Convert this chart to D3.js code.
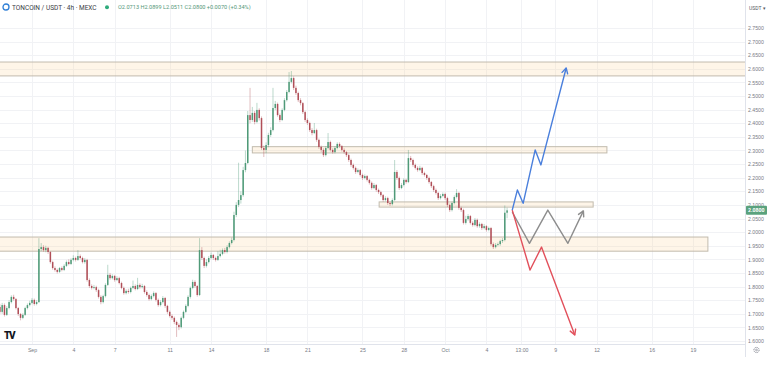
<!DOCTYPE html>
<html>
<head>
<meta charset="utf-8">
<script src="https://cdn.jsdelivr.net/npm/d3@7"></script>
<style>
  body { margin: 0; background: #fff; }
  svg { display: block; font-family: Roboto, "Noto Sans", sans-serif; }
</style>
</head>
<body>
<div id="chart"></div>
<script>
// 4h candles of TONCOIN/USDT
const firstCandle = '2023-08-29T16:00:00Z';
const firstOpen = 1.725;
const closes = [
  1.707,1.732,1.696,1.721,1.743,1.762,1.754,1.721,1.699,1.685,
  1.696,1.721,1.732,1.740,1.751,1.736,1.743,1.938,1.945,1.934,
  1.942,1.927,1.890,1.868,1.861,1.854,1.868,1.861,1.876,1.890,
  1.883,1.898,1.905,1.898,1.912,1.905,1.890,1.898,1.824,1.802,
  1.795,1.798,1.787,1.762,1.743,1.765,1.806,1.843,1.831,1.839,
  1.824,1.831,1.813,1.795,1.776,1.784,1.780,1.795,1.802,1.791,
  1.806,1.798,1.802,1.780,1.769,1.754,1.765,1.776,1.751,1.732,
  1.743,1.758,1.729,1.707,1.692,1.685,1.670,1.659,1.651,1.685,
  1.707,1.729,1.762,1.795,1.817,1.802,1.769,1.934,1.905,1.876,
  1.890,1.905,1.916,1.905,1.898,1.912,1.920,1.934,1.927,1.945,
  1.960,1.971,2.063,2.100,2.118,2.136,2.228,2.254,2.430,2.412,
  2.438,2.405,2.449,2.419,2.309,2.302,2.320,2.357,2.375,2.456,
  2.471,2.430,2.412,2.449,2.485,2.515,2.552,2.566,2.530,2.511,
  2.485,2.474,2.441,2.412,2.401,2.375,2.364,2.375,2.339,2.313,
  2.302,2.283,2.309,2.331,2.302,2.294,2.309,2.324,2.316,2.302,
  2.294,2.283,2.265,2.247,2.236,2.221,2.228,2.210,2.199,2.206,
  2.192,2.181,2.162,2.173,2.155,2.147,2.136,2.118,2.125,2.107,
  2.103,2.118,2.221,2.199,2.162,2.173,2.192,2.184,2.272,2.265,
  2.247,2.236,2.228,2.236,2.217,2.210,2.199,2.184,2.169,2.155,
  2.144,2.125,2.133,2.140,2.125,2.100,2.081,2.107,2.129,2.144,
  2.089,2.081,2.034,2.048,2.059,2.034,2.026,2.045,2.022,2.030,
  2.015,2.022,2.008,2.015,1.956,1.945,1.953,1.956,1.967,1.971,
  2.0713,2.0800
];
const highs = [
  1.735,1.740,1.738,1.728,1.750,1.768,1.770,1.758,1.725,1.703,
  1.702,1.726,1.738,1.748,1.758,1.756,1.750,1.978,1.960,1.952,
  1.950,1.946,1.930,1.895,1.874,1.866,1.872,1.874,1.882,1.896,
  1.900,1.904,1.915,1.910,1.934,1.918,1.910,1.905,1.902,1.830,
  1.808,1.806,1.803,1.792,1.768,1.770,1.812,1.880,1.850,1.845,
  1.843,1.838,1.836,1.818,1.800,1.790,1.792,1.800,1.822,1.808,
  1.832,1.812,1.810,1.806,1.786,1.774,1.771,1.782,1.780,1.756,
  1.750,1.765,1.762,1.733,1.712,1.698,1.690,1.675,1.665,1.690,
  1.712,1.735,1.768,1.800,1.825,1.823,1.806,1.978,1.945,1.910,
  1.900,1.912,1.925,1.920,1.910,1.930,1.935,1.940,1.942,1.952,
  1.966,1.980,2.075,2.110,2.255,2.150,2.240,2.300,2.445,2.530,
  2.460,2.445,2.475,2.455,2.425,2.318,2.330,2.365,2.385,2.530,
  2.482,2.476,2.436,2.455,2.492,2.522,2.588,2.592,2.572,2.538,
  2.516,2.492,2.478,2.446,2.418,2.406,2.382,2.401,2.380,2.344,
  2.318,2.308,2.316,2.364,2.336,2.308,2.316,2.330,2.330,2.320,
  2.308,2.298,2.288,2.270,2.252,2.241,2.234,2.232,2.215,2.212,
  2.210,2.196,2.186,2.180,2.177,2.160,2.152,2.140,2.132,2.130,
  2.112,2.124,2.265,2.228,2.204,2.180,2.198,2.196,2.302,2.280,
  2.270,2.252,2.242,2.244,2.240,2.222,2.214,2.204,2.188,2.174,
  2.160,2.148,2.140,2.146,2.145,2.130,2.105,2.112,2.135,2.158,
  2.148,2.094,2.086,2.060,2.066,2.063,2.040,2.052,2.050,2.036,
  2.034,2.030,2.026,2.020,2.019,1.962,1.960,1.962,1.972,1.978,
  2.098,2.0899
];
const lows = [
  1.700,1.700,1.690,1.692,1.716,1.738,1.748,1.716,1.692,1.676,
  1.680,1.692,1.716,1.727,1.735,1.730,1.731,1.740,1.930,1.928,
  1.926,1.920,1.884,1.862,1.855,1.848,1.850,1.856,1.857,1.872,
  1.878,1.879,1.893,1.892,1.894,1.900,1.885,1.884,1.818,1.795,
  1.789,1.790,1.780,1.756,1.735,1.738,1.760,1.802,1.825,1.826,
  1.818,1.820,1.808,1.790,1.770,1.771,1.774,1.775,1.790,1.786,
  1.787,1.792,1.793,1.774,1.763,1.748,1.749,1.760,1.745,1.726,
  1.727,1.738,1.722,1.700,1.686,1.678,1.662,1.615,1.640,1.646,
  1.680,1.702,1.724,1.756,1.790,1.796,1.763,1.765,1.898,1.868,
  1.870,1.885,1.900,1.898,1.892,1.894,1.907,1.915,1.921,1.922,
  1.940,1.955,1.966,2.055,2.092,2.105,2.130,2.220,2.250,2.400,
  2.405,2.396,2.400,2.410,2.302,2.276,2.290,2.312,2.350,2.370,
  2.448,2.424,2.404,2.408,2.444,2.480,2.510,2.546,2.522,2.504,
  2.478,2.466,2.434,2.405,2.394,2.368,2.356,2.360,2.332,2.306,
  2.294,2.276,2.278,2.304,2.296,2.288,2.289,2.304,2.310,2.296,
  2.288,2.276,2.258,2.240,2.230,2.214,2.216,2.204,2.192,2.194,
  2.186,2.175,2.156,2.158,2.148,2.140,2.130,2.112,2.113,2.100,
  2.096,2.098,2.114,2.192,2.155,2.158,2.168,2.178,2.180,2.258,
  2.240,2.230,2.222,2.224,2.210,2.204,2.192,2.178,2.162,2.148,
  2.138,2.118,2.120,2.128,2.118,2.092,2.074,2.076,2.102,2.124,
  2.082,2.074,2.028,2.028,2.042,2.028,2.020,2.021,2.016,2.016,
  2.008,2.010,2.002,2.003,1.950,1.938,1.940,1.948,1.950,1.960,
  1.966,2.0511
];

// support / resistance boxes (null = runs to the chart edge)
const zoneFrom   = [null, '2023-09-17T00:00:00Z', '2023-09-26T05:00:00Z', null];
const zoneTo     = [null, '2023-10-12T18:00:00Z', '2023-10-11T18:00:00Z', '2023-10-20T02:00:00Z'];
const zoneHigh   = [2.625, 2.314, 2.111, 1.982];
const zoneLow    = [2.574, 2.291, 2.092, 1.930];

// scenario arrows drawn on the chart: [time, price]
const bluePath = [['2023-10-05T21:00:00Z',2.081],['2023-10-06T06:00:00Z',2.155],['2023-10-06T16:00:00Z',2.106],
                  ['2023-10-07T13:00:00Z',2.302],['2023-10-07T23:00:00Z',2.247],['2023-10-09T19:00:00Z',2.603]];
const redPath  = [['2023-10-05T21:00:00Z',2.081],['2023-10-07T04:00:00Z',1.861],['2023-10-08T00:00:00Z',1.945],
                  ['2023-10-10T10:00:00Z',1.622]];
const grayPath = [['2023-10-05T21:00:00Z',2.074],['2023-10-07T03:00:00Z',1.959],['2023-10-08T11:00:00Z',2.081],
                  ['2023-10-09T22:00:00Z',1.959],['2023-10-11T01:00:00Z',2.078]];

// axis ticks
const timeTicks  = ['2023-09-01','2023-09-04','2023-09-07','2023-09-11','2023-09-14','2023-09-18','2023-09-21',
                    '2023-09-25','2023-09-28','2023-10-01','2023-10-04','2023-10-06T13:00','2023-10-09',
                    '2023-10-12','2023-10-16','2023-10-19'];
const timeLabels = ['Sep','4','7','11','14','18','21','25','28','Oct','4','13:00','9','12','16','19'];
const priceTicks = [2.75,2.70,2.65,2.60,2.55,2.50,2.45,2.40,2.35,2.30,2.25,2.20,2.15,2.10,2.05,2.00,
                    1.95,1.90,1.85,1.80,1.75,1.70,1.65,1.60];

let width = 768,
  height = 369,
  plotRight = 745,
  plotBottom = 344;

let svg = d3.select('#chart').append('svg').attr('width', width).attr('height', height);

let xScale = d3.scaleTime()
  .domain([new Date('2023-08-29T16:12:00Z'), new Date('2023-10-22T18:40:00Z')])
  .range([0, plotRight]);
let yScale = d3.scaleLinear().domain([1.6, 2.75]).range([341, 28]);

svg.append('defs').append('clipPath').attr('id', 'plot')
  .append('rect').attr('x', 0).attr('y', 0).attr('width', plotRight).attr('height', plotBottom);

// grid
let tickDates = timeTicks.map(function (d) { return new Date(d + (d.length > 10 ? ':00Z' : 'T00:00:00Z')); });
svg.append('g').selectAll('line').data(priceTicks).enter().append('line')
  .attr('x1', 0).attr('x2', plotRight)
  .attr('y1', function (d) { return Math.round(yScale(d)) + 0.5; })
  .attr('y2', function (d) { return Math.round(yScale(d)) + 0.5; })
  .attr('stroke', '#f1f2f5');
svg.append('g').selectAll('line').data(tickDates).enter().append('line')
  .attr('y1', 0).attr('y2', plotBottom)
  .attr('x1', function (d) { return Math.round(xScale(d)) + 0.5; })
  .attr('x2', function (d) { return Math.round(xScale(d)) + 0.5; })
  .attr('stroke', '#f1f2f5');

let plot = svg.append('g').attr('clip-path', 'url(#plot)');

// zones
let zones = zoneHigh.map(function (h, i) {
  return {
    x0: zoneFrom[i] ? xScale(new Date(zoneFrom[i])) : -2,
    x1: zoneTo[i] ? xScale(new Date(zoneTo[i])) : plotRight + 2,
    y0: yScale(h),
    y1: yScale(zoneLow[i])
  };
});
plot.append('g').selectAll('rect').data(zones).enter().append('rect')
  .attr('x', function (d) { return d.x0; })
  .attr('y', function (d) { return d.y0; })
  .attr('width', function (d) { return d.x1 - d.x0; })
  .attr('height', function (d) { return d.y1 - d.y0; })
  .attr('fill', 'rgba(250, 215, 160, 0.24)')
  .attr('stroke', '#c2bbae')
  .attr('stroke-width', 1);

// candles
let t0 = new Date(firstCandle).getTime();
let candles = closes.map(function (c, i) {
  return { t: new Date(t0 + i * 4 * 3600e3), o: i ? closes[i - 1] : firstOpen, h: highs[i], l: lows[i], c: c };
});
let upColor = '#4f9a78', downColor = '#b04f58';
let cg = plot.append('g').selectAll('g').data(candles).enter().append('g');
cg.append('line')
  .attr('x1', function (d) { return xScale(d.t); })
  .attr('x2', function (d) { return xScale(d.t); })
  .attr('y1', function (d) { return yScale(d.h); })
  .attr('y2', function (d) { return yScale(d.l); })
  .attr('stroke', function (d) { return d.c >= d.o ? upColor : downColor; })
  .attr('stroke-opacity', 0.55)
  .attr('stroke-width', 0.7);
cg.append('rect')
  .attr('x', function (d) { return xScale(d.t) - 0.75; })
  .attr('width', 1.5)
  .attr('y', function (d) { return yScale(Math.max(d.o, d.c)); })
  .attr('height', function (d) { return Math.max(0.8, Math.abs(yScale(d.o) - yScale(d.c))); })
  .attr('fill', function (d) { return d.c >= d.o ? upColor : downColor; });

// scenario arrows
function drawArrow(points, color) {
  let pts = points.map(function (p) { return [xScale(new Date(p[0])), yScale(p[1])]; });
  plot.append('path')
    .attr('d', d3.line()(pts))
    .attr('fill', 'none').attr('stroke', color).attr('stroke-width', 1.4)
    .attr('stroke-linejoin', 'round');
  let a = pts[pts.length - 2], b = pts[pts.length - 1];
  let ang = Math.atan2(b[1] - a[1], b[0] - a[0]);
  let len = 6;
  let head = [
    [b[0] - len * Math.cos(ang - 0.5), b[1] - len * Math.sin(ang - 0.5)],
    b,
    [b[0] - len * Math.cos(ang + 0.5), b[1] - len * Math.sin(ang + 0.5)]
  ];
  plot.append('path')
    .attr('d', d3.line()(head))
    .attr('fill', 'none').attr('stroke', color).attr('stroke-width', 1.4)
    .attr('stroke-linejoin', 'round').attr('stroke-linecap', 'round');
}
drawArrow(grayPath, '#8d8d8d');
drawArrow(redPath, '#e2505b');
drawArrow(bluePath, '#4a7fdc');

// borders of the scales
svg.append('line').attr('x1', plotRight + 0.5).attr('x2', plotRight + 0.5).attr('y1', 0).attr('y2', 357)
  .attr('stroke', '#e0e3eb');
svg.append('line').attr('x1', 0).attr('x2', plotRight).attr('y1', plotBottom + 0.5).attr('y2', plotBottom + 0.5)
  .attr('stroke', '#e0e3eb');

// price axis
let yAxis = d3.axisRight(yScale).tickValues(priceTicks).tickFormat(d3.format('.4f')).tickSize(0).tickPadding(3);
let yg = svg.append('g').attr('transform', 'translate(' + plotRight + ',0)').call(yAxis);
yg.select('.domain').remove();
yg.selectAll('text').attr('fill', '#777b86').style('font-size', '5.2px');

// last price label
let last = candles[candles.length - 1];
svg.append('rect').attr('x', plotRight + 1).attr('y', yScale(last.c) - 4.5).attr('width', 21).attr('height', 9)
  .attr('rx', 1).attr('fill', '#5aa27d');
svg.append('text').attr('x', plotRight + 3).attr('y', yScale(last.c)).attr('dy', '0.35em')
  .attr('fill', '#fff').style('font-size', '5.2px').style('font-weight', 'bold').text(d3.format('.4f')(last.c));

// time axis
let xAxis = d3.axisBottom(xScale).tickValues(tickDates)
  .tickFormat(function (d, i) { return timeLabels[i]; }).tickSize(0).tickPadding(4);
let xg = svg.append('g').attr('transform', 'translate(0,' + plotBottom + ')').call(xAxis);
xg.select('.domain').remove();
xg.selectAll('text').attr('fill', '#777b86').style('font-size', '5.2px');

// header
svg.append('circle').attr('cx', 6).attr('cy', 7).attr('r', 3).attr('fill', 'none')
  .attr('stroke', '#2f7fd6').attr('stroke-width', 1.3);
svg.append('text').attr('x', 12).attr('y', 9.5).attr('fill', '#3a3d45').style('font-size', '6.5px')
  .text('TONCOIN / USDT · 4h · MEXC');
svg.append('circle').attr('cx', 107).attr('cy', 7.3).attr('r', 2).attr('fill', '#2fab7c');
svg.append('text').attr('x', 118).attr('y', 9.3).attr('fill', '#55987a').style('font-size', '5.6px')
  .text('O' + d3.format('.4f')(last.o) + ' H' + d3.format('.4f')(last.h) + ' L' + d3.format('.4f')(last.l) +
        ' C' + d3.format('.4f')(last.c) + ' +0.0070 (+0.34%)');

svg.append('text').attr('x', 749).attr('y', 9.5).attr('fill', '#555963').style('font-size', '5px').text('USDT ▾');

// TradingView mark and gear
svg.append('text').attr('x', 4).attr('y', 339).attr('fill', '#131722')
  .style('font-size', '10px').style('font-weight', '900').style('letter-spacing', '-1.5px').text('TV');
svg.append('circle').attr('cx', 756.5).attr('cy', 350).attr('r', 2.6).attr('fill', 'none')
  .attr('stroke', '#777b86').attr('stroke-width', 0.9).attr('stroke-dasharray', '1.2 0.8');
svg.append('circle').attr('cx', 756.5).attr('cy', 350).attr('r', 0.9).attr('fill', 'none')
  .attr('stroke', '#777b86').attr('stroke-width', 0.6);
</script>
</body>
</html>
